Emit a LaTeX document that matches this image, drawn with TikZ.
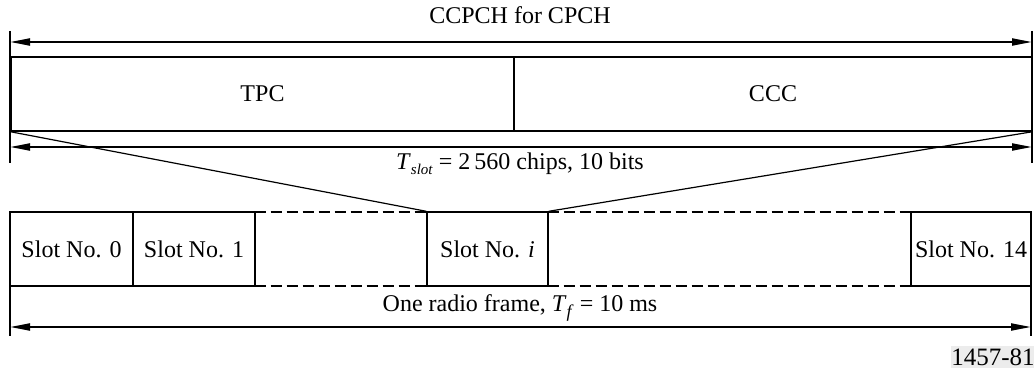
\documentclass[tikz,border=0pt]{standalone}
\usepackage{fontspec}
\setmainfont{Liberation Serif}
\usetikzlibrary{arrows.meta}
\begin{document}
\begin{tikzpicture}[x=0.5pt,y=-0.5pt, font=\fontsize{12}{14}\selectfont,
  cell/.style={draw, line width=0.7pt, inner sep=0pt, minimum height=37pt},
  gapcell/.style={inner sep=0pt, minimum height=37pt},
  dashedge/.style={line width=1pt, dash pattern=on 5.5pt off 2.5pt},
  dim/.style={line width=1pt, {Triangle[length=10pt,width=3.5pt]}-{Triangle[length=10pt,width=3.5pt]}},
  tickline/.style={line width=1pt},
  fan/.style={line width=0.6pt},
  lbl/.style={inner sep=1pt}]
\useasboundingbox (0,0) rectangle (1034,369);

% top field boxes
\node[cell, minimum width=251.5pt] (tpc) at (262.5,94) {TPC};
\node[cell, minimum width=259pt] (ccc) at (773,94) {CCC};

% slot row
\node[cell, minimum width=61.5pt] (s0) at (71.5,249) {Slot No. 0};
\node[cell, minimum width=61pt] (s1) at (194,249) {Slot No. 1};
\node[gapcell, minimum width=86pt] (g1) at (341,249) {};
\node[cell, minimum width=60.5pt] (si) at (487.5,249) {Slot No. \textit{i}};
\node[gapcell, minimum width=181.5pt] (g2) at (729.5,249) {};
\node[cell, minimum width=60pt] (s14) at (971,249) {Slot No. 14};
\draw[dashedge] (g1.north west) -- (g1.north east);
\draw[dashedge] (g1.south west) -- (g1.south east);
\draw[dashedge] (g2.north west) -- (g2.north east);
\draw[dashedge] (g2.south west) -- (g2.south east);

% fan lines
\draw[fan] (tpc.south west) -- (si.north west);
\draw[fan] (ccc.south east) -- (si.north east);

% top dimension
\coordinate (ta) at (10,31);
\coordinate (tb) at (10,163);
\coordinate (tc) at (1032,31);
\coordinate (td) at (1032,163);
\draw[tickline] (ta) -- (tb);
\draw[tickline] (tc) -- (td);
\coordinate (a1l) at (10,42);
\coordinate (a1r) at (1032,42);
\draw[dim] (a1l) -- (a1r);
\coordinate (a2l) at (10,147);
\coordinate (a2r) at (1032,147);
\draw[dim] (a2l) -- (a2r);
\node[lbl] (lab1) at (520,15) {CCPCH for CPCH};
\node[lbl] (lab2) at (520,164) {\textit{T}\raisebox{-0.45ex}{\fontsize{7.5}{8}\selectfont\textit{slot}} = 2\,560 chips, 10 bits};

% bottom dimension
\coordinate (ba) at (10,286);
\coordinate (bb) at (10,336);
\coordinate (bc) at (1031,286);
\coordinate (bd) at (1031,336);
\draw[tickline] (ba) -- (bb);
\draw[tickline] (bc) -- (bd);
\coordinate (a3l) at (10,327);
\coordinate (a3r) at (1031,327);
\draw[dim] (a3l) -- (a3r);
\node[lbl] (lab3) at (520,308) {One radio frame, \textit{T}\raisebox{-0.55ex}{\fontsize{9}{10}\selectfont\textit{f}} = 10 ms};

% figure number
\node[fill=gray!15, inner sep=0pt, minimum width=41pt, minimum height=11pt, font=\fontsize{12.5}{14}\selectfont] (fig) at (993,357) {1457-81};
\end{tikzpicture}
\end{document}
